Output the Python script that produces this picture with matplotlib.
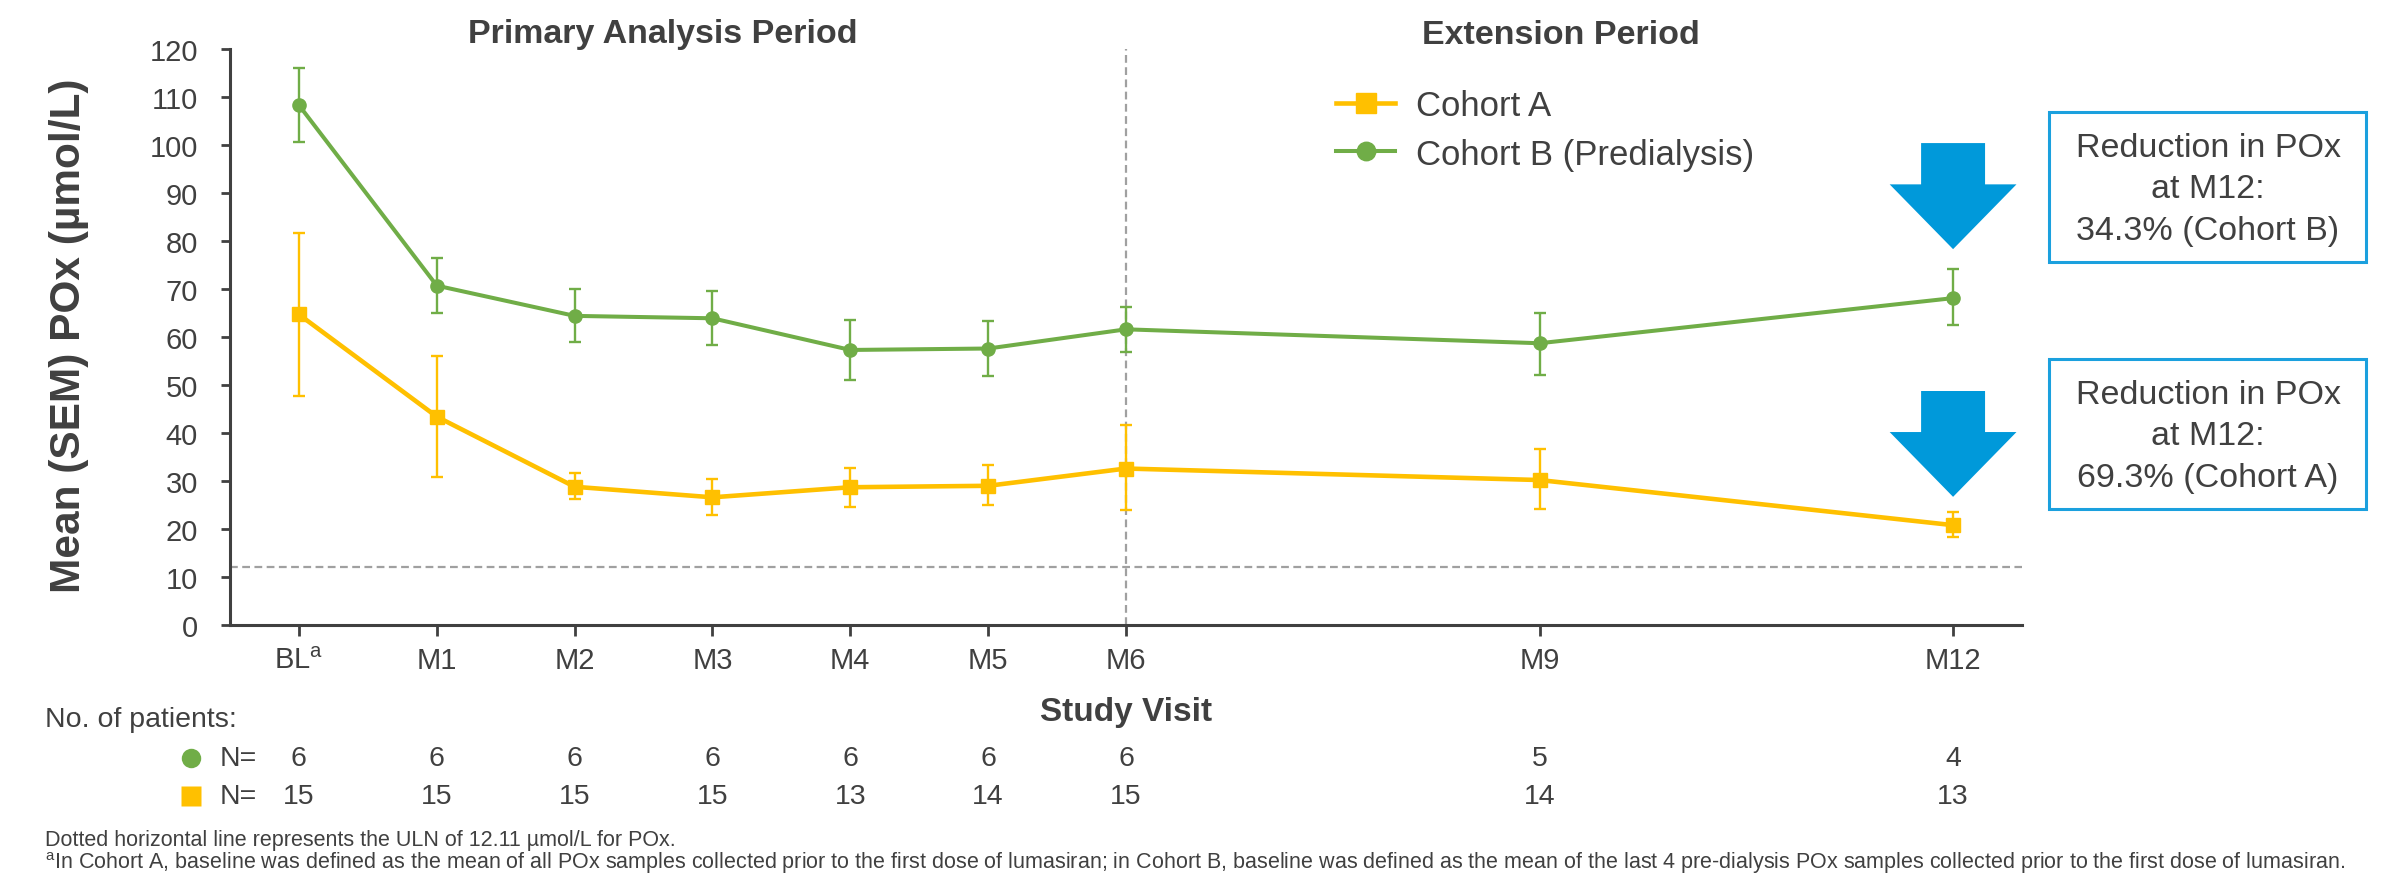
import matplotlib

matplotlib.use("Agg")
import matplotlib.pyplot as plt
from matplotlib import transforms
from matplotlib.lines import Line2D
from matplotlib.patches import FancyArrow, Rectangle

plt.rcParams.update({
    "font.family": ["Liberation Sans", "DejaVu Sans"],
    "mathtext.fontset": "custom",
    "mathtext.rm": "Liberation Sans",
    "text.color": "#404040",
    "axes.labelcolor": "#404040",
    "xtick.color": "#404040",
    "ytick.color": "#404040",
})

# visits (months from baseline) and labels
months = [0, 1, 2, 3, 4, 5, 6, 9, 12]
visit_labels = ["BL$^\\mathregular{a}$", "M1", "M2", "M3", "M4", "M5", "M6", "M9", "M12"]

# Cohort A: mean POx with SEM bar ends
a_mean = [64.7, 43.4, 28.8, 26.6, 28.7, 29.0, 32.6, 30.2, 20.8]
a_low = [47.7, 30.9, 26.2, 23.0, 24.5, 24.9, 24.0, 24.1, 18.3]
a_high = [81.6, 56.0, 31.6, 30.4, 32.8, 33.3, 41.7, 36.6, 23.5]

# Cohort B (predialysis)
b_mean = [108.3, 70.7, 64.4, 63.9, 57.3, 57.6, 61.6, 58.7, 68.1]
b_low = [100.7, 65.1, 58.9, 58.3, 51.0, 51.9, 56.8, 52.1, 62.4]
b_high = [116.0, 76.4, 69.9, 69.6, 63.5, 63.4, 66.3, 65.1, 74.1]

# patients per visit
n_a = [15, 15, 15, 15, 13, 14, 15, 14, 13]
n_b = [6, 6, 6, 6, 6, 6, 6, 5, 4]

uln = 12.11
reductions = ["34.3% (Cohort B)", "69.3% (Cohort A)"]

YELLOW = "#FFC000"
GREEN = "#70AD47"
BLUE = "#0099DA"
DARK = "#404040"
GREY = "#A0A0A0"

W, H = 2391, 878
fig = plt.figure(figsize=(W / 100, H / 100), dpi=100)
ax = fig.add_axes([230 / W, 1 - 626 / H, (2022 - 230) / W, (626 - 50) / H])


def fy(py):
    return 1 - py / H


def fx(px):
    return px / W


ax.axhline(uln, color=GREY, lw=1.6, ls=(0, (3.5, 2)), zorder=1)
ax.axvline(6, color=GREY, lw=1.6, ls=(0, (3.5, 2)), zorder=1)

series = [
    (a_mean, a_low, a_high, YELLOW, "s", 10, 3.3, "Cohort A"),
    (b_mean, b_low, b_high, GREEN, "o", 9.5, 2.9, "Cohort B (Predialysis)"),
]
handles = []
for mean, lo, hi, col, mk, ms, lw, lab in series:
    yerr = [[m - l for m, l in zip(mean, lo)], [h - m for m, h in zip(mean, hi)]]
    ax.errorbar(months, mean, yerr=yerr, color=col, marker=mk, ms=ms, lw=lw,
                elinewidth=1.7, capsize=4, capthick=1.7, zorder=3)
    handles.append(Line2D([], [], color=col, marker=mk, ms=ms * 1.4, lw=lw, label=lab))

ax.set_xlim(-0.5, 12.5)
ax.set_ylim(0, 120)
ax.set_yticks(range(0, 121, 10))
ax.set_xticks(months)
ax.set_xticklabels(visit_labels)
ax.tick_params(labelsize=21, width=2, colors=DARK)
ax.tick_params(axis="y", length=6.5, pad=16.5)
ax.tick_params(axis="x", length=8, pad=7)
for s in ("top", "right"):
    ax.spines[s].set_visible(False)
for s in ("left", "bottom"):
    ax.spines[s].set_color(DARK)
    ax.spines[s].set_linewidth(2.2)

fig.text(fx(69), fy(336), "Mean (SEM) POx (µmol/L)", fontsize=30.5, fontweight="bold",
         rotation=90, ha="center", va="center")
fig.text(fx(1126), fy(713), "Study Visit", fontsize=24, fontweight="bold",
         ha="center", va="center")

# period headers
fig.text(fx(663), fy(35), "Primary Analysis Period", fontsize=24.5, fontweight="bold",
         ha="center", va="center")
fig.text(fx(1561), fy(35), "Extension Period", fontsize=24.5, fontweight="bold",
         ha="center", va="center")

ax.legend(handles=handles, loc="upper left", bbox_to_anchor=(fx(1336), fy(90)),
          bbox_transform=fig.transFigure, frameon=False, fontsize=25,
          handlelength=1.7, handletextpad=0.6, labelspacing=0.45,
          borderpad=0, borderaxespad=0)

# arrows and reduction boxes
for top, tip in [(100.4, 78.3), (48.75, 26.7)]:
    ax.add_patch(FancyArrow(12, top, 0, tip - top, width=0.464, head_width=0.92,
                            head_length=13.5, length_includes_head=True,
                            color=BLUE, lw=0, zorder=4))

for (y0, y1), txt in zip([(113, 263), (360, 510)], reductions):
    fig.add_artist(Rectangle((fx(2049), fy(y1)), (2366 - 2049) / W, (y1 - y0) / H,
                             transform=fig.transFigure, fill=False,
                             ec="#1BA0DE", lw=2.2))
    fig.text(fx(2208), fy((y0 + y1) / 2 + 2), "Reduction in POx\nat M12:\n" + txt,
             fontsize=24.5, ha="center", va="center", linespacing=1.45)

# patient numbers table
fig.text(fx(45), fy(720), "No. of patients:", fontsize=20.5, va="center")
tr = transforms.blended_transform_factory(ax.transData, fig.transFigure)
for py, counts, col, mk in [(759, n_b, GREEN, "o"), (797, n_a, YELLOW, "s")]:
    fig.add_artist(Line2D([fx(191)], [fy(py)], marker=mk, ms=14, color=col,
                          mec="none", transform=fig.transFigure))
    fig.text(fx(220), fy(py), "N=", fontsize=20.5, va="center")
    for m, n in zip(months, counts):
        ax.text(m, fy(py), str(n), transform=tr, fontsize=20.5, ha="center",
                va="center", clip_on=False)

fig.text(fx(45), fy(841), "Dotted horizontal line represents the ULN of 12.11 µmol/L for POx.",
         fontsize=15.5, va="center")
fig.text(fx(45), fy(863),
         "$^\\mathregular{a}$In Cohort A, baseline was defined as the mean of all POx samples "
         "collected prior to the first dose of lumasiran; in Cohort B, baseline was defined as "
         "the mean of the last 4 pre-dialysis POx samples collected prior to the first dose of "
         "lumasiran.", fontsize=15.5, va="center")

fig.savefig("out.png", dpi=100)
